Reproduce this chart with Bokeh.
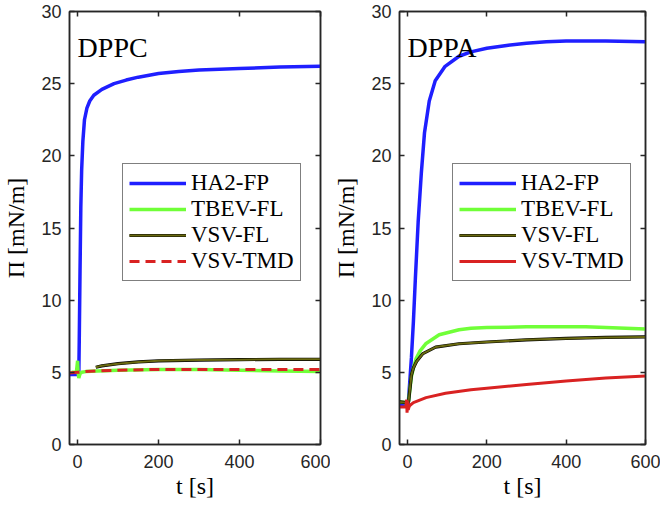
from bokeh.embed import file_html
from bokeh.layouts import row
from bokeh.models import FixedTicker, Label, Legend, LegendItem, LinearAxis, Range1d
from bokeh.plotting import figure
from bokeh.resources import INLINE

# DPPC panel data (time in s, surface pressure in mN/m)
t_ha2_dppc = [-20, 0, 3, 4, 6, 8, 10, 13, 17, 23, 30, 40, 60, 90, 120, 150, 200, 250, 300, 400, 500, 600]
pi_ha2_dppc = [4.85, 4.85, 4.9, 7.0, 12.0, 16.5, 19.0, 21.0, 22.5, 23.3, 23.8, 24.2, 24.6, 25.0, 25.25, 25.45,
               25.7, 25.85, 25.95, 26.05, 26.15, 26.2]
t_tbev_dppc = [-15, -3, 0, 1, 3, 6, 10, 20, 50, 100, 200, 300, 400, 500, 600]
pi_tbev_dppc = [5.0, 5.0, 5.8, 5.1, 4.6, 4.9, 5.0, 5.05, 5.1, 5.15, 5.2, 5.2, 5.15, 5.1, 5.05]
t_vsvfl_dppc = [45, 60, 100, 150, 200, 300, 400, 500, 600]
pi_vsvfl_dppc = [5.35, 5.45, 5.6, 5.72, 5.8, 5.85, 5.88, 5.9, 5.9]
t_tmd_dppc = [-20, 0, 20, 50, 100, 200, 300, 400, 500, 600]
pi_tmd_dppc = [4.95, 5.0, 5.05, 5.1, 5.15, 5.2, 5.2, 5.2, 5.2, 5.2]

# DPPA panel data
t_ha2_dppa = [-20, 0, 2, 5, 10, 15, 20, 27, 35, 43, 55, 70, 95, 130, 160, 200, 250, 300, 350, 400, 500, 600]
pi_ha2_dppa = [2.7, 2.7, 2.8, 4.0, 6.0, 8.5, 11.5, 15.4, 18.8, 21.6, 23.8, 25.2, 26.2, 26.9, 27.2, 27.45,
               27.65, 27.8, 27.9, 27.95, 27.95, 27.9]
t_tbev_dppa = [-20, 0, 3, 6.5, 10, 15, 22, 31, 47, 80, 130, 160, 200, 300, 400, 450, 500, 600]
pi_tbev_dppa = [2.95, 2.9, 3.0, 3.9, 4.7, 5.3, 5.95, 6.45, 7.0, 7.6, 7.95, 8.05, 8.1, 8.15, 8.15, 8.15, 8.1, 8.0]
t_vsvfl_dppa = [-20, 0, 3, 6.5, 10, 15, 23, 39, 71, 130, 200, 300, 400, 500, 600]
pi_vsvfl_dppa = [2.95, 2.9, 3.0, 3.9, 4.8, 5.3, 5.75, 6.3, 6.75, 6.98, 7.1, 7.25, 7.35, 7.42, 7.45]
t_tmd_dppa = [-20, -4, -2, -1, 1, 2, 4, 6, 15, 47, 96, 160, 200, 300, 400, 500, 600]
pi_tmd_dppa = [2.6, 2.6, 3.1, 2.2, 3.0, 2.4, 2.6, 2.7, 2.9, 3.25, 3.55, 3.8, 3.9, 4.15, 4.4, 4.6, 4.75]

series_names = ["HA2-FP", "TBEV-FL", "VSV-FL", "VSV-TMD"]
x_ticks = [0, 200, 400, 600]
y_ticks = [0, 5, 10, 15, 20, 25, 30]

blue = "#1f1fff"
green = "#70ff38"
olive = "#6a6a10"
red = "#d92222"
axis_col = "#262626"


def make_panel(name, data, tmd_dash, width, left, right):
    p = figure(width=width, height=506, output_backend="svg", toolbar_location=None,
               x_range=Range1d(-20, 600), y_range=Range1d(0, 30),
               min_border_left=left, min_border_right=right, min_border_top=11, min_border_bottom=62)
    p.grid.visible = False
    p.outline_line_color = axis_col
    p.outline_line_width = 1.5
    p.background_fill_color = "white"

    # mirrored inside ticks on the top and right, without labels
    p.add_layout(LinearAxis(), "above")
    p.add_layout(LinearAxis(), "right")
    for ax in p.axis:
        ax.axis_line_color = axis_col
        ax.axis_line_width = 1.5
        ax.major_tick_in = 5
        ax.major_tick_out = 0
        ax.major_tick_line_color = axis_col
        ax.major_tick_line_width = 1.5
        ax.minor_tick_line_color = None
        ax.major_label_text_font = "Liberation Sans"
        ax.major_label_text_font_size = "18px"
        ax.major_label_text_color = axis_col
    for ax in p.xaxis:
        ax.ticker = FixedTicker(ticks=x_ticks)
    for ax in p.yaxis:
        ax.ticker = FixedTicker(ticks=y_ticks)
    for ax in p.above + p.right:
        ax.major_label_text_color = None
        ax.major_label_standoff = 0

    xa = p.below[0]
    ya = p.left[0]
    xa.major_label_standoff = 10
    ya.major_label_standoff = 8
    xa.axis_label = "t [s]"
    ya.axis_label = "Π [mN/m]"
    xa.axis_label_standoff = 2
    ya.axis_label_standoff = 9
    for ax in [xa, ya]:
        ax.axis_label_text_font = "Liberation Serif"
        ax.axis_label_text_font_size = "24px"
        ax.axis_label_text_font_style = "normal"
        ax.axis_label_text_color = "black"

    (t1, v1), (t2, v2), (t3, v3), (t4, v4) = data
    r1 = p.line(t1, v1, line_color=blue, line_width=3.5)
    r2 = p.line(t2, v2, line_color=green, line_width=3.5)
    r3a = p.line(t3, v3, line_color="black", line_width=3.2)
    r3b = p.line(t3, v3, line_color=olive, line_width=2.0)
    if tmd_dash:
        r4 = p.line(t4, v4, line_color=red, line_width=3, line_dash="10 6")
    else:
        r4 = p.line(t4, v4, line_color=red, line_width=3)

    legend = Legend(items=[
        LegendItem(label=series_names[0], renderers=[r1]),
        LegendItem(label=series_names[1], renderers=[r2]),
        LegendItem(label=series_names[2], renderers=[r3a, r3b]),
        LegendItem(label=series_names[3], renderers=[r4]),
    ], location=(53, 163))
    legend.margin = 0
    legend.padding = 6
    legend.spacing = 0
    legend.glyph_width = 57
    legend.glyph_height = 20
    legend.label_standoff = 5
    legend.label_text_font = "Liberation Serif"
    legend.label_text_font_size = "23px"
    legend.label_text_color = "black"
    legend.border_line_color = "black"
    legend.border_line_width = 1.2
    legend.background_fill_color = "white"
    legend.background_fill_alpha = 1
    p.add_layout(legend)

    p.add_layout(Label(x=0, y=27.5, text=name, text_font="Liberation Serif",
                       text_font_size="28px", text_color="black", text_baseline="alphabetic"))
    return p


p1 = make_panel("DPPC", [(t_ha2_dppc, pi_ha2_dppc), (t_tbev_dppc, pi_tbev_dppc),
                         (t_vsvfl_dppc, pi_vsvfl_dppc), (t_tmd_dppc, pi_tmd_dppc)],
                True, 330, 66, 10)
p2 = make_panel("DPPA", [(t_ha2_dppa, pi_ha2_dppa), (t_tbev_dppa, pi_tbev_dppa),
                         (t_vsvfl_dppa, pi_vsvfl_dppa), (t_tmd_dppa, pi_tmd_dppa)],
                False, 330, 61, 15)

layout = row(p1, p2, spacing=0)
open("out.html", "w").write(file_html(layout, INLINE))
